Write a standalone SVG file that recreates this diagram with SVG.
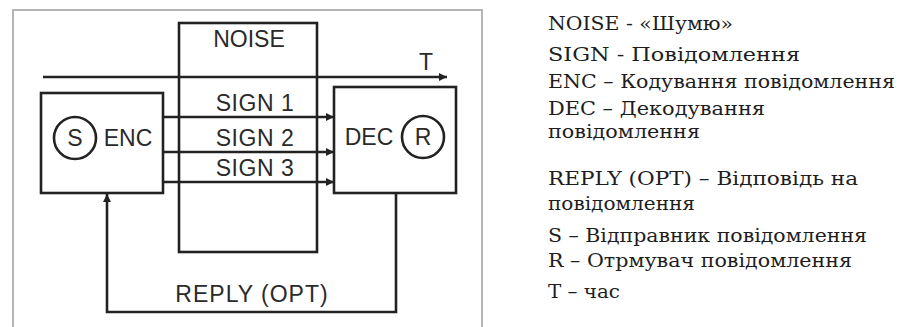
<svg xmlns="http://www.w3.org/2000/svg" width="899" height="327" viewBox="0 0 899 327">
<defs>
<marker id="ah" viewBox="0 0 10 10" refX="10" refY="5" markerWidth="10" markerHeight="8" markerUnits="userSpaceOnUse" orient="auto">
<path d="M0,0 L10,5 L0,10 z" fill="#222"/>
</marker>
<style>
.ln{fill:none;stroke:#222;stroke-width:2.6}
.bx{fill:#fff;stroke:#222;stroke-width:2.6}
.lb{font-family:"Liberation Sans",Arial,sans-serif;font-size:23px;fill:#2a2a2a}
.lg{font-family:"DejaVu Serif","Liberation Serif",serif;font-size:18px;fill:#1e1e1e}
.fr{fill:none;stroke:#b5b5b5;stroke-width:2}
</style>
</defs>
<rect width="899" height="327" fill="#fff"/>
<path class="fr" d="M13,327 V10 H482 V327"/>
<g id="noise"><rect class="bx" x="179" y="23" width="138" height="229" fill="none"/><text class="lb" x="249" y="47" text-anchor="middle">NOISE</text></g>
<g id="enc"><rect class="bx" x="41" y="93" width="122" height="100"/><circle class="ln" cx="75" cy="138" r="21"/><text class="lb" x="75" y="146" text-anchor="middle">S</text><text class="lb" x="128" y="146" text-anchor="middle">ENC</text></g>
<g id="dec"><rect class="bx" x="334" y="87" width="122" height="106"/><circle class="ln" cx="423" cy="137" r="21"/><text class="lb" x="423" y="145" text-anchor="middle">R</text><text class="lb" x="369" y="145" text-anchor="middle">DEC</text></g>
<g id="connectors">
<line class="ln" x1="43" y1="77" x2="447" y2="77" marker-end="url(#ah)"/>
<text class="lb" x="426" y="70" text-anchor="middle">T</text>
<line class="ln" x1="163" y1="117" x2="334" y2="117" marker-end="url(#ah)"/>
<line class="ln" x1="163" y1="152" x2="334" y2="152" marker-end="url(#ah)"/>
<line class="ln" x1="163" y1="182" x2="334" y2="182" marker-end="url(#ah)"/>
<text class="lb" x="255" y="111" text-anchor="middle" letter-spacing="0.5">SIGN 1</text>
<text class="lb" x="255" y="146" text-anchor="middle" letter-spacing="0.5">SIGN 2</text>
<text class="lb" x="255" y="176" text-anchor="middle" letter-spacing="0.5">SIGN 3</text>
<polyline class="ln" points="396,193 396,312 107,312 107,194" marker-end="url(#ah)"/>
<text class="lb" x="252" y="302" text-anchor="middle" letter-spacing="1">REPLY (OPT)</text>
</g>
<g id="legend">
<text class="lg" x="548" y="30" textLength="185" lengthAdjust="spacingAndGlyphs">NOISE - «Шумю»</text>
<text class="lg" x="548" y="61" textLength="252" lengthAdjust="spacingAndGlyphs">SIGN - Повідомлення</text>
<text class="lg" x="548" y="88" textLength="347" lengthAdjust="spacingAndGlyphs">ENC – Кодування повідомлення</text>
<text class="lg" x="548" y="115" textLength="217" lengthAdjust="spacingAndGlyphs">DEC – Декодування</text>
<text class="lg" x="548" y="138" textLength="152" lengthAdjust="spacingAndGlyphs">повідомлення</text>
<text class="lg" x="548" y="185" textLength="310" lengthAdjust="spacingAndGlyphs">REPLY (OPT) – Відповідь на</text>
<text class="lg" x="548" y="210" textLength="147" lengthAdjust="spacingAndGlyphs">повідомлення</text>
<text class="lg" x="548" y="242" textLength="319" lengthAdjust="spacingAndGlyphs">S – Відправник повідомлення</text>
<text class="lg" x="548" y="267" textLength="304" lengthAdjust="spacingAndGlyphs">R – Отрмувач повідомлення</text>
<text class="lg" x="548" y="298" textLength="72" lengthAdjust="spacingAndGlyphs">T – час</text>
</g>
</svg>
